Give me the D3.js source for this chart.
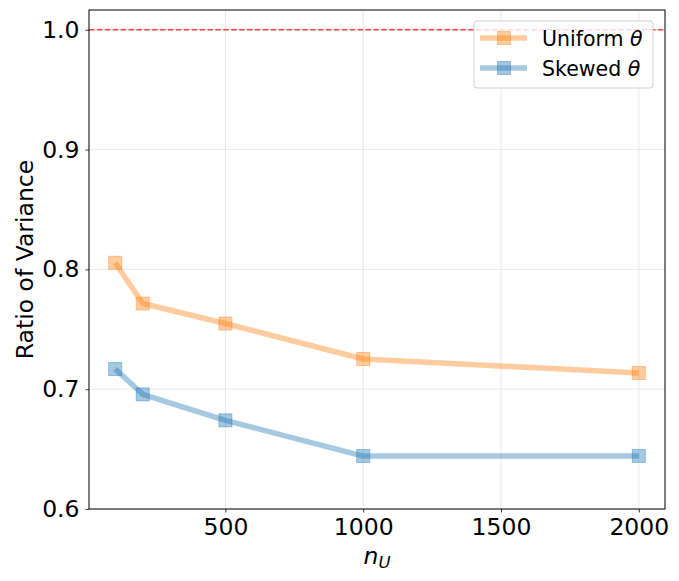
<!DOCTYPE html>
<html>
<head>
<meta charset="utf-8">
<script src="https://cdn.jsdelivr.net/npm/d3@7"></script>
<style>
  body { margin: 0; background: #fff; }
  text { font-family: "DejaVu Sans", sans-serif; fill: #000; }
</style>
</head>
<body>
<div id="chart"></div>
<script>
// data
const nU = [100, 200, 500, 1000, 2000];
const uniformRatio = [0.8055, 0.7715, 0.7548, 0.7252, 0.7135];
const skewedRatio = [0.7168, 0.6957, 0.6740, 0.6442, 0.6443];
const xTicks = [500, 1000, 1500, 2000];
const yTicks = [0.6, 0.7, 0.8, 0.9, 1.0];
const seriesNames = ["Uniform θ", "Skewed θ"];

const width = 679, height = 581;
const margin = {top: 10, right: 14, bottom: 72, left: 89};
const innerW = width - margin.left - margin.right;
const innerH = height - margin.top - margin.bottom;
const fontSize = "23.5px";

const svg = d3.select("#chart").append("svg")
    .attr("width", width)
    .attr("height", height);

const g = svg.append("g")
    .attr("transform", `translate(${margin.left},${margin.top})`);

const x = d3.scaleLinear().domain([5, 2095]).range([0, innerW]);
const y = d3.scaleLinear().domain([0.6, 1.0165]).range([innerH, 0]);

// grid
g.append("g").selectAll("line")
    .data(xTicks).enter().append("line")
    .attr("x1", d => x(d)).attr("x2", d => x(d))
    .attr("y1", 0).attr("y2", innerH)
    .attr("stroke", "#e3e3e3").attr("stroke-width", 0.8);
g.append("g").selectAll("line")
    .data(yTicks).enter().append("line")
    .attr("x1", 0).attr("x2", innerW)
    .attr("y1", d => y(d)).attr("y2", d => y(d))
    .attr("stroke", "#e3e3e3").attr("stroke-width", 0.8);

// reference line at 1.0
g.append("line")
    .attr("x1", 0).attr("x2", innerW)
    .attr("y1", y(1.0)).attr("y2", y(1.0))
    .attr("stroke", "#ff4040")
    .attr("stroke-width", 1.5)
    .attr("stroke-dasharray", "5.5,2.4");

// axes
const xAxis = d3.axisBottom(x).tickValues(xTicks).tickSize(3.5).tickPadding(6)
    .tickFormat(d3.format("d"));
const yAxis = d3.axisLeft(y).tickValues(yTicks).tickSize(3.5).tickPadding(6)
    .tickFormat(d3.format(".1f"));

const gx = g.append("g")
    .attr("transform", `translate(0,${innerH})`)
    .call(xAxis);
const gy = g.append("g").call(yAxis);

[gx, gy].forEach(a => {
    a.select(".domain").remove();
    a.selectAll("text").style("font-size", fontSize).style("font-family", "DejaVu Sans");
    a.selectAll("line").attr("stroke", "#000").attr("stroke-width", 0.8);
});

// frame
g.append("rect")
    .attr("width", innerW).attr("height", innerH)
    .attr("fill", "none").attr("stroke", "#000").attr("stroke-width", 1);

// series
const series = [
    {name: seriesNames[0], values: uniformRatio, color: "#ff7f0e"},
    {name: seriesNames[1], values: skewedRatio, color: "#1f77b4"}
];

const line = d3.line()
    .x((d, i) => x(nU[i]))
    .y(d => y(d));

const msize = 13;
series.forEach(s => {
    g.append("path")
        .datum(s.values)
        .attr("d", line)
        .attr("fill", "none")
        .attr("stroke", s.color)
        .attr("stroke-opacity", 0.4)
        .attr("stroke-width", 5.5)
        .attr("stroke-linejoin", "round");

    g.append("g").selectAll("rect")
        .data(s.values).enter().append("rect")
        .attr("x", (d, i) => x(nU[i]) - msize / 2)
        .attr("y", d => y(d) - msize / 2)
        .attr("width", msize).attr("height", msize)
        .attr("fill", s.color).attr("fill-opacity", 0.4)
        .attr("stroke", s.color).attr("stroke-opacity", 0.4)
        .attr("stroke-width", 1);
});

// axis labels
svg.append("text")
    .attr("transform", `translate(33,${margin.top + innerH / 2}) rotate(-90)`)
    .attr("text-anchor", "middle")
    .style("font-size", fontSize)
    .text("Ratio of Variance");

const xl = svg.append("text")
    .attr("x", margin.left + innerW / 2)
    .attr("y", 564)
    .attr("text-anchor", "middle")
    .style("font-size", fontSize)
    .style("font-style", "italic");
xl.append("tspan").text("n");
xl.append("tspan").attr("dy", 4).style("font-size", "16.5px").text("U");

// legend
const legend = svg.append("g")
    .attr("transform", `translate(${margin.left + innerW - 191},${margin.top + 11})`);

legend.append("rect")
    .attr("width", 179).attr("height", 67)
    .attr("rx", 3)
    .attr("fill", "#fff").attr("fill-opacity", 0.8)
    .attr("stroke", "#d0d0d0").attr("stroke-width", 1);

series.forEach((s, i) => {
    const row = legend.append("g")
        .attr("transform", `translate(0,${17 + i * 30})`);
    row.append("line")
        .attr("x1", 6).attr("x2", 53)
        .attr("stroke", s.color).attr("stroke-opacity", 0.4)
        .attr("stroke-width", 5.5);
    row.append("rect")
        .attr("x", 30 - msize / 2).attr("y", -msize / 2)
        .attr("width", msize).attr("height", msize)
        .attr("fill", s.color).attr("fill-opacity", 0.4)
        .attr("stroke", s.color).attr("stroke-opacity", 0.4);
    row.append("text")
        .attr("x", 68).attr("y", 7.5)
        .style("font-size", "20.5px")
        .text(s.name.replace(" θ", " "))
        .append("tspan").style("font-style", "italic").text("θ");
});
</script>
</body>
</html>
